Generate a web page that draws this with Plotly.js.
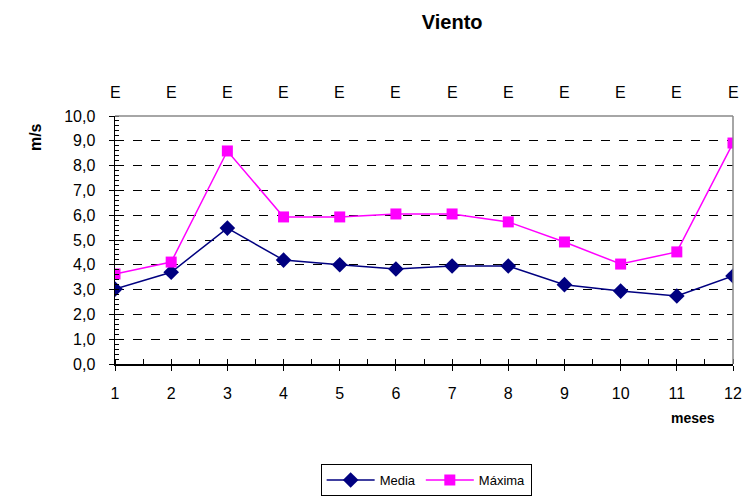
<!DOCTYPE html>
<html>
<head>
<meta charset="utf-8">
<script src="https://cdn.plot.ly/plotly-3.0.1.min.js"></script>
<style>html,body{margin:0;padding:0;background:#fff;}#chart{width:745px;height:498px;}</style>
</head>
<body>
<div id="chart"></div>
<script>
var months = [1, 2, 3, 4, 5, 6, 7, 8, 9, 10, 11, 12];
var media = [3.02, 3.7, 5.48, 4.19, 4.0, 3.83, 3.95, 3.95, 3.2, 2.94, 2.74, 3.55];
var maxima = [3.63, 4.11, 8.59, 5.93, 5.93, 6.05, 6.05, 5.73, 4.92, 4.03, 4.52, 8.91];
var direcciones = ["E", "E", "E", "E", "E", "E", "E", "E", "E", "E", "E", "E"];

var font = "Liberation Sans, Arial, sans-serif";

var traces = [
  {x: months, y: media, name: "Media", type: "scatter", mode: "lines+markers",
   line: {color: "#000080", width: 1.5},
   marker: {symbol: "diamond", size: 12, color: "#000080"}},
  {x: months, y: maxima, name: "Máxima", type: "scatter", mode: "lines+markers",
   line: {color: "#FF00FF", width: 1.5},
   marker: {symbol: "square", size: 11, color: "#FF00FF"}}
];

var annotations = direcciones.map(function(d, i) {
  return {x: months[i], y: 1, xref: "x", yref: "paper", yanchor: "middle", yshift: 24, text: d,
          showarrow: false, font: {family: font, size: 16, color: "#000"}};
});
annotations.push({x: 0, xref: "paper", xanchor: "center", xshift: -80, y: 0.915, yref: "paper",
  yanchor: "middle", text: "<b>m/s</b>", textangle: -90, showarrow: false,
  font: {family: font, size: 16, color: "#000"}});
annotations.push({x: 1, xref: "paper", xanchor: "center", xshift: -40, y: 0, yref: "paper",
  yanchor: "middle", yshift: -54,
  text: "<b>meses</b>", showarrow: false, font: {family: font, size: 14, color: "#000"}});

var layout = {
  width: 745, height: 498,
  margin: {l: 115, r: 12, t: 116, b: 134},
  paper_bgcolor: "#fff", plot_bgcolor: "#fff",
  separators: ",.",
  title: {text: "<b>Viento</b>", x: 0.607, xanchor: "center", y: 0.956, yanchor: "middle",
          font: {family: font, size: 20, color: "#000"}},
  showlegend: true,
  legend: {orientation: "h", x: 0.572, xref: "container", xanchor: "center",
           y: 0.036, yref: "container", yanchor: "middle",
           bordercolor: "#000", borderwidth: 1, font: {family: font, size: 13, color: "#000"},
           itemwidth: 48, tracegroupgap: 0},
  xaxis: {range: [1, 12], tickmode: "array", tickvals: months, ticktext: months.map(String),
          showgrid: false, zeroline: false, showline: true, linecolor: "#000", linewidth: 1.5,
          ticks: "outside", ticklen: 5, tickcolor: "#000", ticklabelstandoff: 9,
          minor: {dtick: 0.5, ticks: "inside", ticklen: 5, tickcolor: "#000", showgrid: false},
          tickfont: {family: font, size: 16, color: "#000"}},
  yaxis: {range: [0, 10], dtick: 1, tickformat: ".1f",
          showgrid: true, gridcolor: "#000", griddash: "dash", gridwidth: 1,
          zeroline: false, showline: true, linecolor: "#000", linewidth: 1.5,
          ticks: "outside", ticklen: 5, tickcolor: "#000", ticklabelstandoff: 10,
          minor: {dtick: 0.2, ticks: "inside", ticklen: 4, tickcolor: "#000", showgrid: false},
          tickfont: {family: font, size: 16, color: "#000"}},
  shapes: [
    {type: "line", xref: "paper", yref: "paper", x0: 0, x1: 1, y0: 1, y1: 1, line: {color: "#888", width: 1.5}},
    {type: "line", xref: "paper", yref: "paper", x0: 1, x1: 1, y0: 0, y1: 1, line: {color: "#888", width: 1.5}}
  ],
  annotations: annotations
};

Plotly.newPlot("chart", traces, layout, {displayModeBar: false, staticPlot: true});
</script>
</body>
</html>
